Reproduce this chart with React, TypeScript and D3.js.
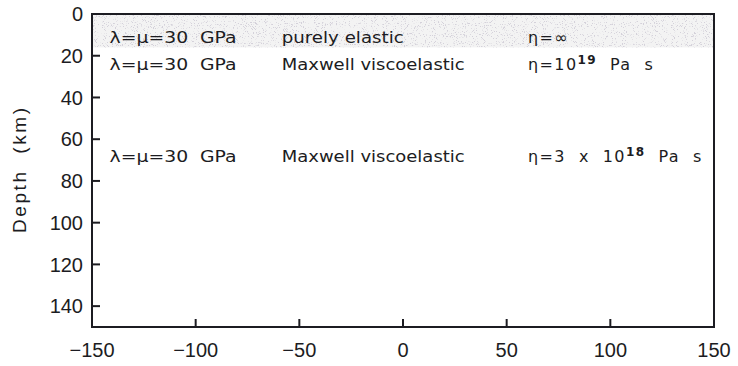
import React from "react";
import * as d3 from "d3";

// Axis ticks
const xTicks = [-150, -100, -50, 0, 50, 100, 150];
const yTicks = [0, 20, 40, 60, 80, 100, 120, 140];

// Elastic lid (km depth range, shaded)
const elasticLid = [0, 16];

// Layer annotations: depth (km) at which each row is written
const layerDepths = [14, 27, 71];
const layerModuli = ["λ=μ=30  GPa", "λ=μ=30  GPa", "λ=μ=30  GPa"];
const layerRheology = ["purely elastic", "Maxwell viscoelastic", "Maxwell viscoelastic"];
const viscosityBase = ["η=∞", "η=10", "η=3  x  10"];
const viscosityExp = ["", "19", "18"];
const viscosityUnit = ["", "  Pa  s", "  Pa  s"];

const W = 738;
const H = 366;
const left = 92;
const right = 714;
const top = 14;
const bottom = 327;

export default function App() {
  const x = d3.scaleLinear().domain([-150, 150]).range([left, right]);
  const y = d3.scaleLinear().domain([0, 150]).range([top, bottom]);
  const fmt = (v: number) => (v < 0 ? "\u2212" + Math.abs(v) : String(v));
  const ink = "#1c1c22";
  const textFont = "DejaVu Sans";
  const tickFont = "Liberation Sans";

  return (
    <svg
      width={W}
      height={H}
      style={{ position: "absolute", left: 0, top: 0, background: "#fff" }}
    >
      <defs>
        <filter id="speckle" x="0" y="0" width="1" height="1">
          <feTurbulence type="fractalNoise" baseFrequency="0.9" numOctaves="2" seed="7" result="n" />
          <feColorMatrix
            in="n"
            type="matrix"
            values="0 0 0 0 0.66  0 0 0 0 0.64  0 0 0 0 0.7  10 0 0 0 -6.0"
            result="dots"
          />
          <feComposite in="dots" in2="SourceGraphic" operator="in" />
        </filter>
      </defs>

      {/* elastic lid shading */}
      <rect
        x={left}
        y={y(elasticLid[0])}
        width={right - left}
        height={y(elasticLid[1]) - y(elasticLid[0])}
        fill="#f3f3f3"
      />
      <rect
        x={left}
        y={y(elasticLid[0])}
        width={right - left}
        height={y(elasticLid[1]) - y(elasticLid[0])}
        fill="#000"
        filter="url(#speckle)"
      />

      {/* layer annotations */}
      {layerDepths.map((d, i) => (
        <g key={i} fontFamily={textFont} fontSize={15.5} fill={ink}>
          <text x={x(-141.5)} y={y(d)} textLength={127} lengthAdjust="spacingAndGlyphs" style={{ whiteSpace: "pre" }}>
            {layerModuli[i]}
          </text>
          <text
            x={x(-58.5)}
            y={y(d)}
            textLength={i === 0 ? 122 : 183}
            lengthAdjust="spacingAndGlyphs"
          >
            {layerRheology[i]}
          </text>
          <text x={x(60.3)} y={y(d)} fontSize={16} letterSpacing={1.4} style={{ whiteSpace: "pre" }}>
            {viscosityBase[i]}
            {viscosityExp[i] && (
              <tspan dy={-6} fontSize={12} fontWeight="bold">
                {viscosityExp[i]}
              </tspan>
            )}
            {viscosityUnit[i] && <tspan dy={6}>{viscosityUnit[i]}</tspan>}
          </text>
        </g>
      ))}

      {/* frame */}
      <rect
        x={left}
        y={top}
        width={right - left}
        height={bottom - top}
        fill="none"
        stroke={ink}
        strokeWidth={2}
      />

      {/* y axis ticks & labels */}
      {yTicks.map((t) => (
        <g key={"y" + t}>
          {t > 0 && <line x1={left} x2={left + 8} y1={y(t)} y2={y(t)} stroke={ink} strokeWidth={2} />}
          <text
            x={left - 9}
            y={y(t)}
            dy="0.36em"
            textAnchor="end"
            fontFamily={tickFont}
            fontSize={20}
            fill={ink}
          >
            {t}
          </text>
        </g>
      ))}

      {/* x axis ticks & labels */}
      {xTicks.map((t) => (
        <g key={"x" + t}>
          {t > -150 && t < 150 && (
            <line x1={x(t)} x2={x(t)} y1={bottom} y2={bottom - 8} stroke={ink} strokeWidth={2} />
          )}
          <text
            x={x(t)}
            y={357}
            textAnchor="middle"
            fontFamily={tickFont}
            fontSize={20}
            fill={ink}
            style={{ whiteSpace: "pre" }}
          >
            {fmt(t)}
          </text>
        </g>
      ))}

      {/* y axis title */}
      <text
        transform={`translate(26, ${(top + bottom) / 2}) rotate(-90)`}
        textAnchor="middle"
        fontFamily={tickFont}
        fontSize={19}
        fill={ink}
        textLength={125}
        lengthAdjust="spacing"
        style={{ whiteSpace: "pre" }}
      >
        Depth  (km)
      </text>
    </svg>
  );
}
